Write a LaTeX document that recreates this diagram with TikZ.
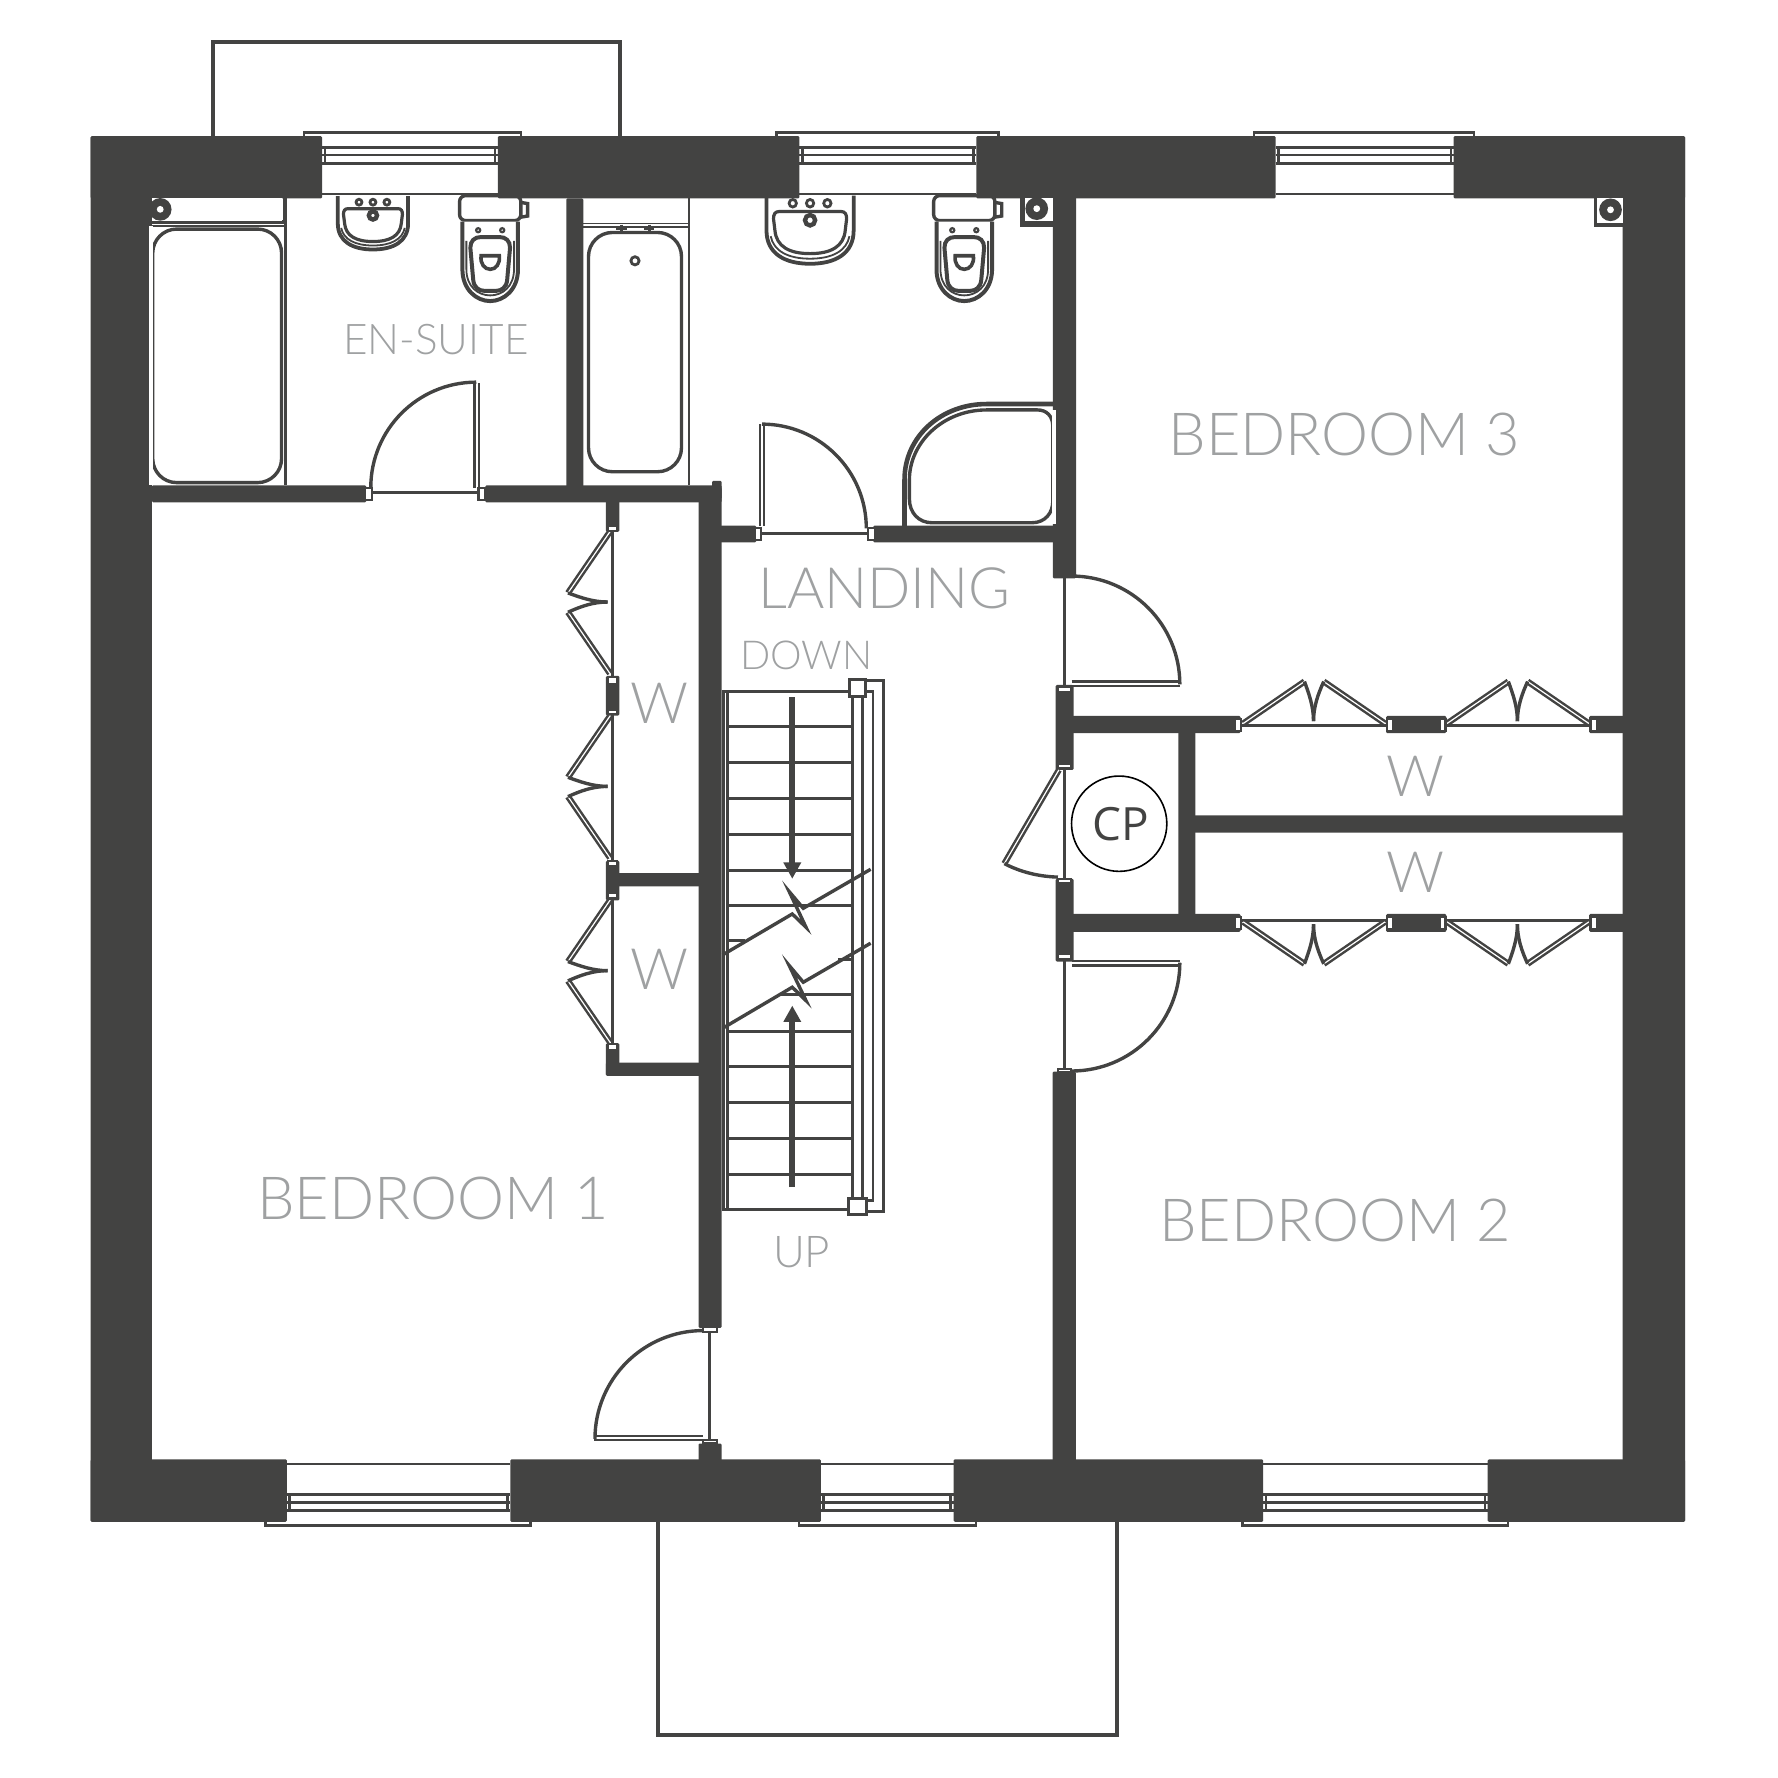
\documentclass[tikz,border=0pt]{standalone}
\usepackage{fontspec}
\usetikzlibrary{arrows.meta}
\usetikzlibrary{calc}
\newfontfamily\labelfont{Lato Light}
\newfontfamily\markfont{Open Sans}
\definecolor{walldark}{HTML}{434342}
\definecolor{labelgrey}{HTML}{9FA1A2}
\tikzset{
	wall/.style={fill=walldark, rounded corners=0.3pt},
	thinline/.style={draw=walldark, line width=.68pt},
	fixture/.style={draw=walldark, line width=.85pt, fill=white},
	ring/.style={draw=walldark, fill=white, line width=.7pt},
	jamb/.style={draw=walldark, fill=white, line width=.55pt},
	leaf/.style={draw=walldark, double=white, double distance=.55pt, line width=.55pt},
	foldleaf/.style={draw=walldark, double=white, double distance=.3pt, line width=.62pt},
	swing/.style={draw=walldark, line width=.85pt},
	tread/.style={draw=walldark, line width=.75pt},
	flight/.style={draw=walldark, line width=1.4pt, -{Triangle[length=4.1pt,width=4.2pt]}},
	breakline/.style={draw=walldark, line width=.85pt, line join=miter},
	room/.style={text=labelgrey, font=\labelfont\fontsize{14.9}{18}\selectfont, inner sep=0pt},
	smallroom/.style={text=labelgrey, font=\labelfont\fontsize{10.6}{13}\selectfont, inner sep=0pt},
	wlabel/.style={room, font=\labelfont\fontsize{14.3}{18}\selectfont},
	cpmark/.style={circle, draw=black, line width=.4pt, minimum size=.84cm, inner sep=0pt,
		font=\markfont\fontsize{11.5}{13}\selectfont, text=walldark},
	folds/.pic={
		\draw[foldleaf] (0,0) -- (54,-37);
		\draw[foldleaf] (125,0) -- (71,-37);
		\draw[swing] (54,-37) .. controls (58,-26) and (62,-15) .. (62,-2);
		\draw[swing] (71,-37) .. controls (66,-26) and (62,-15) .. (62,-2);
	},
	toilet/.pic={
		\draw[fixture] (27,6) -- (33,7) -- (33,18) -- (27,19);
		\draw[fixture, rounded corners=1.5pt] (-27,0) rectangle (27,22);
		\draw[fixture, line width=1pt] (-24.5,23) -- (-24.5,65) .. controls (-24.5,83) and (-12,93) .. (0,93)
			.. controls (12,93) and (24.5,83) .. (24.5,65) -- (24.5,23);
		\draw[thinline, line width=.45pt] (-21,40) -- (-21,65) .. controls (-21,80) and (-11,88) .. (0,88)
			.. controls (11,88) and (21,80) .. (21,65) -- (21,40);
		\draw[fixture, line width=1pt] (-17.5,46) .. controls (-17.5,40) and (-14,36.5) .. (-8,36.5) -- (8,36.5)
			.. controls (14,36.5) and (17.5,40) .. (17.5,46) -- (15,74) .. controls (14.5,81) and (10,84) .. (5,84)
			-- (-5,84) .. controls (-10,84) and (-14.5,81) .. (-15,74) -- cycle;
		\draw[fixture, line width=.9pt] (-8,53) -- (8,53) .. controls (9,60) and (5,65) .. (0,65)
			.. controls (-5,65) and (-9,60) .. (-8,53) -- cycle;
		\draw[ring, line width=.55pt] (-10.6,30.5) circle[radius=1.8];
		\draw[ring, line width=.55pt] (10.6,30.5) circle[radius=1.8];
	},
	basin/.pic={
		\draw[fixture, line width=.95pt] (-31,-2) -- (-31,22) .. controls (-31,38) and (-18,45) .. (0,45)
			.. controls (18,45) and (31,38) .. (31,22) -- (31,-2);
		\draw[thinline, line width=.45pt] (-28,26) .. controls (-26,36) and (-16,41.5) .. (0,41.5)
			.. controls (16,41.5) and (26,36) .. (28,26);
		\draw[fixture, line width=.8pt] (-22,9) -- (22,9) .. controls (25,9) and (26,11) .. (26,14) -- (25,22)
			.. controls (24,33) and (15,38) .. (0,38) .. controls (-15,38) and (-24,33) .. (-25,22)
			-- (-26,14) .. controls (-26,11) and (-25,9) .. (-22,9) -- cycle;
		\draw[ring] (-12.3,3.3) circle[radius=2.6];
		\draw[ring] (0,3.3) circle[radius=2.6];
		\draw[ring] (12.3,3.3) circle[radius=2.6];
		\draw[ring, line width=1.1pt] (0,15) circle[radius=3.6];
	},
}
\newcommand{\windowframe}[4]{
	\draw[thinline] (#3,120) -- (#3,117) -- (#4,117) -- (#4,120);
	\draw[thinline] (#1,130) -- (#2,130) (#1,136.7) -- (#2,136.7) (#1,144) -- (#2,144) (#1,171) -- (#2,171);
	\draw[thinline] ($(#1,130)+(2.5,0)$) -- ($(#1,144)+(2.5,0)$) ($(#2,130)-(2.5,0)$) -- ($(#2,144)-(2.5,0)$);
}
\newcommand{\pipemark}[2]{
	\fill[walldark] (#1,#2) circle[radius=10];
	\fill[white] (#1,#2) circle[radius=3];
}

\begin{document}
\begin{tikzpicture}[x=0.01cm, y=-0.01cm]
	\useasboundingbox (0,0) rectangle (1568,1568);

	% porch and bay
	\draw[walldark, line width=1pt] (188,120) -- (188,37.3) -- (546.5,37.3) -- (546.5,120);
	\draw[walldark, line width=1pt] (580,1342) -- (580,1530) -- (985,1530) -- (985,1342);

	% fixtures
	\draw[thinline] (251.5,175) -- (251.5,428);
	\draw[walldark, line width=.9pt] (134,196) -- (251.5,196);
	\draw[thinline, line width=.45pt] (134,199.5) -- (251.5,199.5);
	\draw[fixture, rounded corners=6pt] (134.7,202) rectangle (248.3,425.6);
	\draw[thinline, line width=.45pt] (514.4,197) -- (607.5,197) (514.4,200) -- (607.5,200);
	\draw[thinline] (607.5,175) -- (607.5,428);
	\draw[fixture, rounded corners=6pt] (519,205) rectangle (601,416);
	\draw[ring] (560,230) circle[radius=3.6];
	\draw[thinline] (548.3,198) -- (548.3,205) (543.5,202) -- (553,202) (572.5,198) -- (572.5,205) (568,202) -- (577,202);
	\pic at (328.9,175) {basin};
	\pic[xscale=1.24, yscale=1.28] at (714.4,175) {basin};
	\pic at (432.3,172.5) {toilet};
	\pic at (850.4,172.5) {toilet};

	% shower
	\draw[walldark, line width=1.15pt] (797.7,464) -- (797.7,423) .. controls (797.7,385) and (830,356.3) .. (870,356.3) -- (929,356.3);
	\draw[fixture, line width=.85pt] (928.5,376) .. controls (928.5,367) and (923,361.5) .. (915,361.5) -- (870,361.5)
		.. controls (832,361.5) and (802,390) .. (802,423) -- (802,440) .. controls (802,452) and (810,461) .. (822,461)
		-- (910,461) .. controls (922,461) and (928.5,452) .. (928.5,442) -- cycle;

	% windows
	\windowframe{284}{439}{268}{459.5}
	\windowframe{705}{861}{685}{880.5}
	\windowframe{1125}{1282}{1106}{1300}
	\begin{scope}[shift={(0,1462)}, yscale=-1]
		\windowframe{253}{450}{234}{468}
		\windowframe{724}{841}{704.6}{860.6}
		\windowframe{1114}{1312}{1096}{1330}
	\end{scope}

	% walls
	\foreach \xa/\ya/\xb/\yb in {
		80/120/284/175, 439/120/705/175, 861/120/1125/175, 1282/120/1486/175,
		80/120/134/1342, 1431/120/1486/1342,
		80/1287/253/1342, 450/1287/724/1342, 841/1287/1114/1342, 1312/1287/1486/1342,
		134/428/323/443, 428/428/636.4/443, 499.4/175/514.4/430, 628/424/636.4/440,
		616/430/636.4/1171, 616/1273/636.4/1289,
		634/463.6/667/478.2, 770/463.6/930/478.2,
		928.5/173/949/510, 928.3/945/948.7/1289,
		931/604/946.8/679, 931/775/946.8/848,
		944/631.4/1094/646.5, 1222.4/631.4/1275.5/646.5, 1401.5/631.4/1433/646.5,
		944/806/1094/821.8, 1222.4/806/1275.5/821.8, 1401.5/806/1433/821.8,
		1039.3/644/1054.2/808, 1052/719/1433/734.3,
		534.4/441/546.2/469, 534.4/596/546.2/631, 534.4/759/546.2/794, 544/770/618/781.7,
		534.4/920/546.2/948.8, 534.4/937/618/948.8}
		\fill[wall] (\xa,\ya) rectangle (\xb,\yb);
	\fill[white] (131.8,199.5) rectangle (134.5,428);
	\fill[white] (928,361.5) rectangle (931,462);

	% pipes
	\fill[white] (134,175) rectangle (249,195);
	\draw[walldark, line width=.9pt] (251.5,175) -- (251.5,196);
	\pipemark{141.3}{184.6}
	\fill[walldark] (899.5,175) rectangle (928.5,200);
	\fill[white] (904,175) rectangle (928.5,194.6);
	\pipemark{914.3}{184}
	\fill[walldark] (1405.6,175) rectangle (1431,200);
	\fill[white] (1408,175) rectangle (1431,197);
	\pipemark{1420.3}{185}

	% doors
	\draw[thinline] (327,434.4) -- (422,434.4);
	\draw[leaf] (420.4,338) -- (420.4,430);
	\draw[swing] (327,430) arc[start angle=180, end angle=270, radius=93];
	\draw[jamb] (321.5,430.6) rectangle (327.8,441);
	\draw[jamb] (422,430.6) rectangle (428,441);
	\draw[thinline] (670,470.3) -- (765,470.3);
	\draw[leaf] (672,373.5) -- (672,464);
	\draw[swing] (672,374) arc[start angle=270, end angle=360, radius=92];
	\draw[jamb] (665.5,465.9) rectangle (670.8,476.2);
	\draw[jamb] (765.3,465.9) rectangle (771.6,476.2);
	\draw[thinline] (939,509) -- (939,606);
	\draw[leaf] (945,603) -- (1040.5,603);
	\draw[swing] (945,508) arc[start angle=270, end angle=360, radius=95.5];
	\draw[jamb] (933,606) rectangle (944.8,610);
	\draw[thinline] (939,678) -- (939,775);
	\draw[foldleaf] (933.8,679) -- (885.7,761.6);
	\draw[swing] (885.7,761.6) .. controls (900,769) and (916,773) .. (933,773.5);
	\draw[jamb] (933,673.6) rectangle (944.8,677.5);
	\draw[jamb] (933,775.3) rectangle (944.8,779.2);
	\draw[thinline] (939,846) -- (939,943);
	\draw[leaf] (945,849.5) -- (1040.5,849.5);
	\draw[swing] (1040.5,849) arc[start angle=0, end angle=90, radius=95.5];
	\draw[jamb] (933,841.5) rectangle (944.8,845.5);
	\draw[jamb] (933,942.6) rectangle (944.8,945.4);
	\draw[thinline] (626,1173) -- (626,1271);
	\draw[leaf] (620.2,1268.3) -- (523.5,1268.3);
	\draw[swing] (620.2,1173.4) arc[start angle=270, end angle=180, radius=95.5];
	\draw[jamb] (620,1170) rectangle (632,1174.4);
	\draw[jamb] (620,1270) rectangle (632,1273);

	% wardrobe doors
	\draw[thinline] (540,468) -- (540,921);
	\foreach \ya in {468.9,631.5,794}
		\pic[cm={0,-1,-1,0,(0,0)}] at (537.9,\ya) {folds};
	\foreach \ya/\yb in {463.8/468.2,597/602.9,625.8/629.8,759/764,787/792,921/926}
		\draw[jamb] (536.5,\ya) rectangle (544.4,\yb);
	\draw[thinline] (1094,639.6) -- (1223,639.6) (1275,639.6) -- (1403,639.6);
	\draw[thinline] (1094,812) -- (1223,812) (1275,812) -- (1403,812);
	\foreach \xa in {1096.4,1276.2} {
		\pic at (\xa,638) {folds};
		\pic[yscale=-1] at (\xa,813) {folds};
	}
	\foreach \ya/\yb in {634/644.7,808.5/819.2} {
		\draw[jamb] (1089.3,\ya) rectangle (1094.4,\yb);
		\draw[jamb] (1223,\ya) rectangle (1228.3,\yb);
		\draw[jamb] (1269.6,\ya) rectangle (1274.7,\yb);
		\draw[jamb] (1402.7,\ya) rectangle (1408.6,\yb);
	}

	% stairs
	\draw[thinline] (637.9,610) -- (637.9,1067) (641.4,610) -- (641.4,1067);
	\draw[tread] (636.4,609.6) -- (750,609.6) (636.4,1067) -- (749,1067);
	\foreach \ya in {641,672.5,704,736,767.3,798.3,909.7,940.9,972.6,1004.4,1035.9}
		\draw[tread] (641,\ya) -- (752,\ya);
	\draw[tread] (641,829.5) -- (657,829.5) (739,846.5) -- (752,846.5) (688,877.4) -- (752,877.4);
	\draw[tread] (752,610) -- (752,1057) (760.8,610) -- (760.8,1057);
	\draw[thinline] (764,609.6) -- (770,609.6) -- (770,1059) -- (764,1059);
	\draw[tread] (764,600.5) -- (779,600.5) -- (779,1068.5) -- (764,1068.5);
	\draw[jamb, line width=.75pt] (749.6,598.8) rectangle (763.7,614);
	\draw[jamb, line width=.75pt] (748.7,1056.7) rectangle (764.3,1071.4);
	\draw[breakline] (637.3,842.1) -- (698.7,806) -- (710.8,817.7) -- (696,786.3) -- (708.4,801) -- (767.8,766.6);
	\draw[breakline] (637.3,906.8) -- (698.7,870.6) -- (710.8,882.4) -- (696,851.5) -- (708.4,866.2) -- (767.8,831.8);
	\coordinate (downfrom) at (698.7,615);
	\coordinate (downto) at (698.7,775);
	\coordinate (upfrom) at (698.7,1047);
	\coordinate (upto) at (698.7,886.8);
	\draw[flight] (downfrom) -- (downto);
	\draw[flight] (upfrom) -- (upto);

	% labels
	\node[smallroom] (ensuite) at (384.5,299.6) {EN-SUITE};
	\node[room] (bedroomthree) at (1185.5,383) {BEDROOM 3};
	\node[room] (bedroomone) at (382,1057) {BEDROOM 1};
	\node[room] (bedroomtwo) at (1177.5,1076) {BEDROOM 2};
	\node[room, font=\labelfont\fontsize{14.3}{18}\selectfont] (landing) at (780,519) {LANDING};
	\node[smallroom, font=\labelfont\fontsize{10}{13}\selectfont] (downlabel) at (711,578) {DOWN};
	\node[smallroom, font=\labelfont\fontsize{11}{13}\selectfont] (uplabel) at (707,1104) {UP};
	\node[wlabel] (wone) at (581.5,620) {W};
	\node[wlabel] (wtwo) at (581.5,855) {W};
	\node[wlabel] (wthree) at (1248,685) {W};
	\node[wlabel] (wfour) at (1248,769.5) {W};
	\node[cpmark] (cp) at (987,726.4) {\kern.6pt CP};
\end{tikzpicture}
\end{document}
